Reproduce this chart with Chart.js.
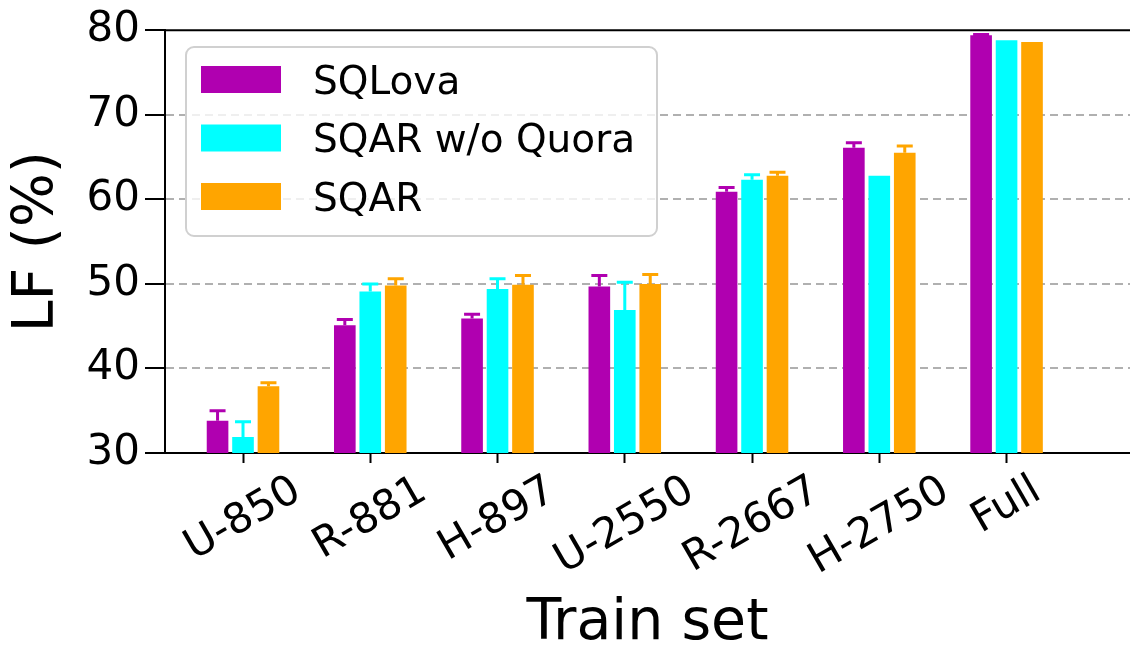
<!DOCTYPE html>
<html>
<head>
<meta charset="utf-8">
<script src="https://cdn.jsdelivr.net/npm/chart.js@4.4.1/dist/chart.umd.min.js"></script>
<style>
  body { margin: 0; background: #fff; }
</style>
</head>
<body>
<canvas id="chart" width="1130" height="662"></canvas>
<script>
const trainSets = ["U-850", "R-881", "H-897", "U-2550", "R-2667", "H-2750", "Full"];
const seriesNames = ["SQLova", "SQAR w/o Quora", "SQAR"];
const seriesColors = ["#b000b0", "#00ffff", "#ffa500"];

const sqlova = [33.8, 45.1, 45.9, 49.7, 60.9, 66.1, 79.4];
const sqlovaErr = [1.2, 0.7, 0.5, 1.3, 0.5, 0.6, 0.1];
const noQuora = [31.9, 49.1, 49.4, 46.9, 62.3, 62.8, 78.8];
const noQuoraErr = [1.8, 0.9, 1.2, 3.3, 0.6, 0, 0];
const sqar = [37.9, 49.8, 49.9, 50.0, 62.8, 65.5, 78.6];
const sqarErr = [0.4, 0.8, 1.1, 1.1, 0.4, 0.8, 0];

const yTicks = [30, 40, 50, 60, 70, 80];

const FONT = "'DejaVu Sans', sans-serif";

const values = [sqlova, noQuora, sqar];
const errors = [sqlovaErr, noQuoraErr, sqarErr];

// error bars, upper half only (the lower half hides in the bar)
const errorBars = {
  id: "errorBars",
  afterDatasetsDraw(chart) {
    const ctx = chart.ctx;
    const y = chart.scales.y;
    chart.data.datasets.forEach((ds, d) => {
      const meta = chart.getDatasetMeta(d);
      meta.data.forEach((bar, i) => {
        const err = errors[d][i];
        if (!err) return;
        const top = y.getPixelForValue(values[d][i] + err);
        ctx.save();
        ctx.strokeStyle = ds.backgroundColor;
        ctx.lineWidth = 3;
        ctx.beginPath();
        ctx.moveTo(bar.x, bar.y);
        ctx.lineTo(bar.x, top);
        ctx.moveTo(bar.x - 8, top);
        ctx.lineTo(bar.x + 8, top);
        ctx.stroke();
        ctx.restore();
      });
    });
  }
};

// rotated category labels, centred under the tick like matplotlib
const xLabels = {
  id: "xLabels",
  afterDraw(chart) {
    const ctx = chart.ctx;
    const x = chart.scales.x;
    const fs = 42;
    const a = 30 * Math.PI / 180;
    ctx.save();
    ctx.font = fs + "px " + FONT;
    ctx.fillStyle = "#000";
    ctx.textAlign = "center";
    ctx.textBaseline = "middle";
    trainSets.forEach((lab, i) => {
      const w = ctx.measureText(lab).width;
      const h = fs * 0.76;
      const boxH = w * Math.sin(a) + h * Math.cos(a);
      const cx = x.getPixelForValue(i);
      const cy = 474 + boxH / 2;
      ctx.save();
      ctx.translate(cx, cy);
      ctx.rotate(-a);
      ctx.fillText(lab, 0, 0);
      ctx.restore();
    });
    ctx.restore();
  }
};

// top spine + legend box inside the axes
const frameLegend = {
  id: "frameLegend",
  afterDraw(chart) {
    const ctx = chart.ctx;
    const area = chart.chartArea;
    ctx.save();
    ctx.strokeStyle = "#000";
    ctx.lineWidth = 2;
    ctx.beginPath();
    ctx.moveTo(area.left, area.top);
    ctx.lineTo(area.right, area.top);
    ctx.stroke();

    const lx = 186, ly = 47, lw = 471, lh = 189;
    ctx.beginPath();
    ctx.roundRect(lx, ly, lw, lh, 8);
    ctx.fillStyle = "rgba(255,255,255,0.8)";
    ctx.fill();
    ctx.strokeStyle = "#d0d0d0";
    ctx.lineWidth = 2;
    ctx.stroke();

    ctx.font = "39px " + FONT;
    ctx.textBaseline = "alphabetic";
    seriesNames.forEach((name, i) => {
      const top = 66 + i * 58.5;
      ctx.fillStyle = seriesColors[i];
      ctx.fillRect(201, top, 80, 27);
      ctx.fillStyle = "#000";
      ctx.fillText(name, 313, top + 13.5 + 39 * 0.365);
    });
    ctx.restore();
  }
};

new Chart(document.getElementById("chart"), {
  type: "bar",
  data: {
    datasets: seriesNames.map((name, d) => ({
      label: name,
      data: values[d].map((v, i) => ({ x: i, y: v })),
      backgroundColor: seriesColors[d],
      borderWidth: 0,
      categoryPercentage: 0.6,
      barPercentage: 0.85
    }))
  },
  options: {
    responsive: false,
    animation: false,
    layout: { padding: { top: 28, right: 0, left: 0, bottom: 0 } },
    plugins: {
      legend: { display: false },
      tooltip: { enabled: false }
    },
    scales: {
      x: {
        type: "linear",
        offset: false,
        min: -0.613,
        max: 6.97,
        z: 1,
        afterBuildTicks: s => { s.ticks = trainSets.map((c, i) => ({ value: i })); },
        afterFit: s => { s.height = 209; },
        ticks: { display: false },
        grid: {
          offset: false,
          drawOnChartArea: false,
          drawTicks: true,
          tickLength: 10,
          tickColor: "#000",
          tickWidth: 2
        },
        border: { color: "#000", width: 2 },
        title: {
          display: true,
          text: "Train set",
          color: "#000",
          font: { family: FONT, size: 57 },
          padding: { top: 0, bottom: 4 }
        }
      },
      y: {
        min: 30,
        max: 80,
        z: 1,
        afterBuildTicks: s => { s.ticks = yTicks.map(v => ({ value: v })); },
        afterFit: s => { s.width = 165; },
        ticks: {
          color: "#000",
          font: { family: FONT, size: 42 },
          padding: 5
        },
        grid: {
          color: c => (c.tick && (c.tick.value === 30 || c.tick.value === 80)) ? "rgba(0,0,0,0)" : "#b0b0b0",
          lineWidth: 2,
          tickLength: 20,
          tickColor: "#000",
          tickWidth: 2,
          tickBorderDash: []
        },
        border: { color: "#000", width: 2, dash: [8, 5] },
        title: {
          display: true,
          text: "LF (%)",
          color: "#000",
          font: { family: FONT, size: 57 },
          padding: { top: 4, bottom: 0 }
        }
      }
    }
  },
  plugins: [errorBars, xLabels, frameLegend]
});
</script>
</body>
</html>
